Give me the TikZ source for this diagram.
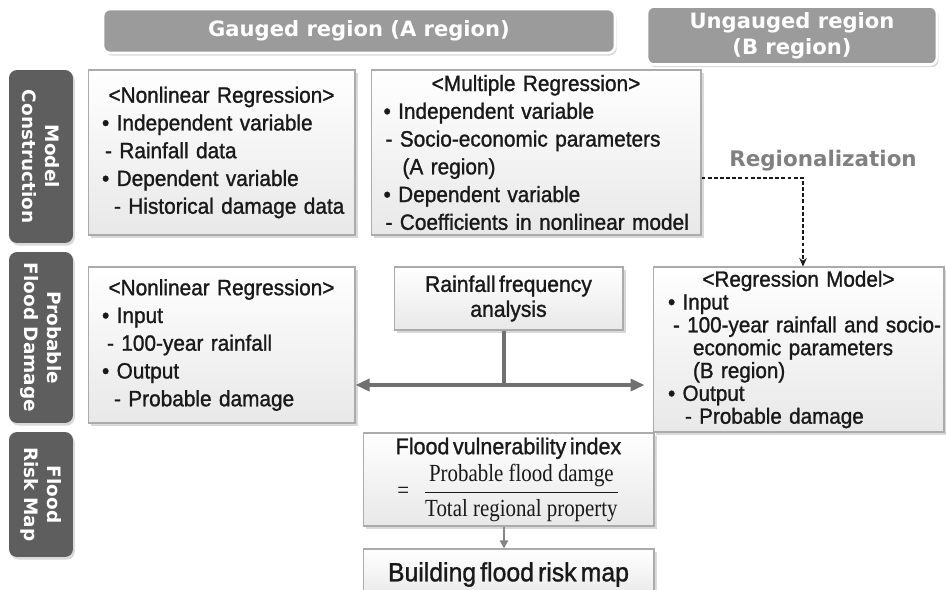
\documentclass[tikz,border=0pt]{standalone}
\usepackage{fontspec}
\setmainfont[WordSpace=0.6, FakeStretch=0.94, FakeBold=1.2]{Liberation Sans}
\newfontfamily\hdrfont{DejaVu Sans}
\newfontfamily\fracfont[FakeStretch=0.85]{Liberation Serif}
\usetikzlibrary{arrows.meta,shadows}
\definecolor{hdrgray}{HTML}{9B9B9B}
\definecolor{sidegray}{HTML}{5E5E5E}
\definecolor{boxline}{HTML}{ABABAB}
\definecolor{linkgray}{HTML}{707070}
\definecolor{regtext}{HTML}{808080}

\begin{document}
\begin{tikzpicture}[x=0.02cm, y=-0.02cm, >=Stealth,
  every node/.style={font=\fontsize{12.6}{15.8}\selectfont, text=black!90},
  hdrbox/.style={fill=hdrgray, draw=white, line width=1.5pt, rounded corners=0.14cm,
    text=white, align=center, font=\hdrfont\bfseries\fontsize{12}{14.7}\selectfont,
    drop shadow={shadow xshift=1pt, shadow yshift=-1.5pt, opacity=0.3}},
  sidebox/.style={fill=sidegray, rounded corners=0.16cm, rotate=-90, minimum height=1.28cm,
    text=white, align=center, font=\hdrfont\bfseries\fontsize{10.5}{13}\selectfont,
    drop shadow={shadow xshift=1pt, shadow yshift=-1.5pt, opacity=0.3}},
  panel/.style={draw=boxline, line width=0.6pt, top color=white, bottom color=black!9,
    inner xsep=0.28cm, inner ysep=0pt, align=left,
    drop shadow={shadow xshift=1.5pt, shadow yshift=-1.5pt, opacity=0.3}},
  mainlink/.style={draw=linkgray, line width=1.9pt},
  ]
  \useasboundingbox (0,0) rectangle (946,589);

  % ---- column headers ----
  \node[hdrbox, minimum width=10.24cm, minimum height=0.88cm] (hdrA) at (359,31)
    {Gauged region (A region)};
  \node[hdrbox, minimum width=5.8cm, minimum height=1.1cm] (hdrB) at (792,35.5)
    {Ungauged region\\(B region)};

  % ---- row labels ----
  \node[sidebox, minimum width=3.46cm] (sideMC) at (41,156.5) {Model\\Construction};
  \node[sidebox, minimum width=3.42cm] (sidePF) at (41,337.5) {Probable\\Flood Damage};
  \node[sidebox, minimum width=2.5cm] (sideFR) at (41,494.5) {Flood\\Risk Map};

  % ---- model construction ----
  \node[panel, text width=4.78cm, minimum height=3.3cm] (nlreg) at (221.5,152.5)
    {\makebox[\hsize]{<Nonlinear Regression>}\\
     • Independent variable\\
     \hspace*{0.06cm}- Rainfall data\\
     • Dependent variable\\
     \mbox{\hspace*{0.24cm}- Historical damage data}};
  \node[panel, text width=6.1cm, inner xsep=0.25cm, minimum height=3.3cm] (mlreg) at (536,152.5)
    {\makebox[\hsize]{<Multiple Regression>}\\
     • Independent variable\\
     \hspace*{0.04cm}- Socio-economic parameters\\
     \hspace*{0.38cm}(A region)\\
     • Dependent variable\\
     \mbox{\hspace*{0.04cm}- Coefficients in nonlinear model}};

  \node[font=\hdrfont\bfseries\fontsize{12.2}{14}\selectfont, text=regtext] (regl) at (823,161)
    {Regionalization};

  % ---- probable flood damage ----
  \node[panel, text width=4.78cm, minimum height=3.12cm] (nlprob) at (221.5,345)
    {\makebox[\hsize]{<Nonlinear Regression>}\\
     • Input\\
     \hspace*{0.1cm}- 100-year rainfall\\
     • Output\\
     \hspace*{0.24cm}- Probable damage};
  \node[panel, align=center, inner xsep=0pt, minimum width=4.58cm, minimum height=1.26cm,
    font=\fontsize{12.8}{14.2}\selectfont] (rainfreq) at (508.5,298.5)
    {Rainfall frequency\\analysis};
  \node[panel, text width=5.22cm, inner xsep=0.3cm, minimum height=3.3cm,
    font=\fontsize{12.5}{13}\selectfont] (regmod) at (798.5,349.5)
    {\makebox[\hsize]{<Regression Model>}\\
     • Input\\
     \mbox{\hspace*{0.1cm}- 100-year rainfall and socio-}\\
     \hspace*{0.5cm}economic parameters\\
     \hspace*{0.5cm}(B region)\\
     • Output\\
     \hspace*{0.34cm}- Probable damage};

  % ---- flood risk map ----
  \node[panel, align=center, inner xsep=0pt, minimum width=5.82cm, minimum height=1.86cm,
    font=\fontsize{13}{15}\selectfont] (fvi) at (508.5,479.5)
    {Flood vulnerability index\\[2pt]
     {\fracfont\fontsize{14}{15}\selectfont
      $\displaystyle\hbox{=}\;\; \frac{\hbox{Probable flood damge}}{\hbox{Total regional property}}$}};
  \node[panel, align=center, inner xsep=0pt, minimum width=5.82cm, minimum height=1.02cm,
    font=\fontsize{15}{17}\selectfont] (riskmap) at (508.5,574.5)
    {Building flood risk map};

  % ---- connectors ----
  \coordinate (jn) at (504,385);
  \coordinate (rg) at (803,178);
  \draw[mainlink] (rainfreq.south -| jn) -- (jn);
  \draw[mainlink, {Triangle[length=0.28cm,width=0.24cm]}-{Triangle[length=0.28cm,width=0.24cm]}]
    (nlprob.east |- jn) -- ([xshift=-0.16cm]regmod.west |- jn);
  \draw[draw=black!90, line width=0.7pt, dash pattern=on 2.2pt off 1.3pt,
    -{Stealth[length=0.17cm,width=0.15cm]}]
    (mlreg.east |- rg) -- (rg) -- (regmod.north -| rg);
  \draw[draw=linkgray!85, line width=1.3pt, -{Triangle[length=0.16cm,width=0.16cm]}]
    (fvi.south -| jn) -- (riskmap.north -| jn);
\end{tikzpicture}
\end{document}
